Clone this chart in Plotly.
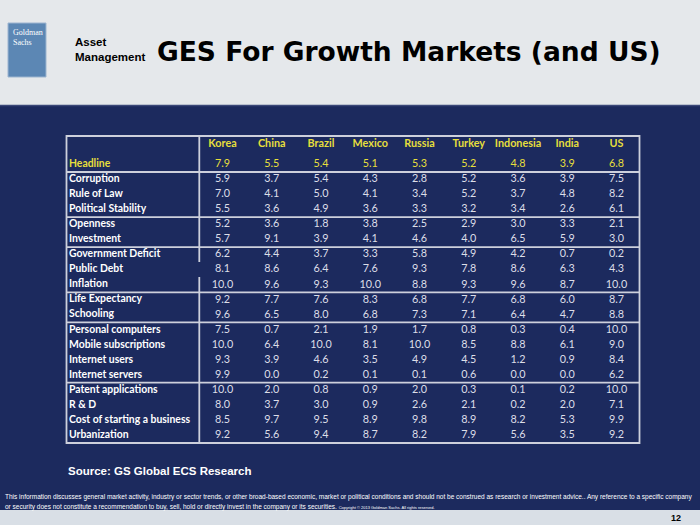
import plotly.graph_objects as go

# ---------------- data ----------------
countries = ["Korea", "China", "Brazil", "Mexico", "Russia", "Turkey", "Indonesia", "India", "US"]
rows = ["Headline", "Corruption", "Rule of Law", "Political Stability", "Openness", "Investment",
        "Government Deficit", "Public Debt", "Inflation", "Life Expectancy", "Schooling",
        "Personal computers", "Mobile subscriptions", "Internet users", "Internet servers",
        "Patent applications", "R & D", "Cost of starting a business", "Urbanization"]
group_sizes = [1, 3, 2, 3, 2, 4, 4]

korea = [7.9, 5.9, 7.0, 5.5, 5.2, 5.7, 6.2, 8.1, 10.0, 9.2, 9.6, 7.5, 10.0, 9.3, 9.9, 10.0, 8.0, 8.5, 9.2]
china = [5.5, 3.7, 4.1, 3.6, 3.6, 9.1, 4.4, 8.6, 9.6, 7.7, 6.5, 0.7, 6.4, 3.9, 0.0, 2.0, 3.7, 9.7, 5.6]
brazil = [5.4, 5.4, 5.0, 4.9, 1.8, 3.9, 3.7, 6.4, 9.3, 7.6, 8.0, 2.1, 10.0, 4.6, 0.2, 0.8, 3.0, 9.5, 9.4]
mexico = [5.1, 4.3, 4.1, 3.6, 3.8, 4.1, 3.3, 7.6, 10.0, 8.3, 6.8, 1.9, 8.1, 3.5, 0.1, 0.9, 0.9, 8.9, 8.7]
russia = [5.3, 2.8, 3.4, 3.3, 2.5, 4.6, 5.8, 9.3, 8.8, 6.8, 7.3, 1.7, 10.0, 4.9, 0.1, 2.0, 2.6, 9.8, 8.2]
turkey = [5.2, 5.2, 5.2, 3.2, 2.9, 4.0, 4.9, 7.8, 9.3, 7.7, 7.1, 0.8, 8.5, 4.5, 0.6, 0.3, 2.1, 8.9, 7.9]
indonesia = [4.8, 3.6, 3.7, 3.4, 3.0, 6.5, 4.2, 8.6, 9.6, 6.8, 6.4, 0.3, 8.8, 1.2, 0.0, 0.1, 0.2, 8.2, 5.6]
india = [3.9, 3.9, 4.8, 2.6, 3.3, 5.9, 0.7, 6.3, 8.7, 6.0, 4.7, 0.4, 6.1, 0.9, 0.0, 0.2, 2.0, 5.3, 3.5]
us = [6.8, 7.5, 8.2, 6.1, 2.1, 3.0, 0.2, 4.3, 10.0, 8.7, 8.8, 10.0, 9.0, 8.4, 6.2, 10.0, 7.1, 9.9, 9.2]

series = [korea, china, brazil, mexico, russia, turkey, indonesia, india, us]

# ---------------- styling / layout ----------------
W, H = 700, 525
NAVY = "#1c2a5e"
YELLOW = "#e6df3c"
BODY = "#dcdee8"
LINE = "#cdd0dc"
FONT = "Lato, 'Open Sans', sans-serif"

# axis mapping: column i centre at 222.5 + 49.25*i px, row r at 164 + 15.06*r px
CX0, CDX = 222.5, 49.25
RY0, RDY = 164.5, 15.04
x_range = [-CX0 / CDX, (W - CX0) / CDX]
y_range = [(H - RY0) / RDY, -RY0 / RDY]

def xv(px):
    return (px - CX0) / CDX

def yv(py):
    return (py - RY0) / RDY

def pxp(px):
    return px / W

def pyp(py):
    return 1 - py / H

fig = go.Figure()

row_idx = list(range(len(rows)))
for i, (c, vals) in enumerate(zip(countries, series)):
    fig.add_trace(go.Scatter(
        x=[i] * len(vals), y=row_idx, mode="text",
        text=[f"{v:.1f}" for v in vals],
        textfont=dict(family=FONT, size=10.8,
                      color=[YELLOW if r == 0 else BODY for r in row_idx]),
        textposition="middle center", hoverinfo="skip", showlegend=False))

# header row (country names)
fig.add_trace(go.Scatter(
    x=list(range(len(countries))), y=[yv(144)] * len(countries), mode="text",
    text=[f"<b>{c}</b>" for c in countries],
    textfont=dict(family=FONT, size=10.8, color=YELLOW),
    hoverinfo="skip", showlegend=False))

# row labels
fig.add_trace(go.Scatter(
    x=[xv(69)] * len(rows), y=row_idx, mode="text",
    text=[f"<b>{r}</b>" for r in rows],
    textposition="middle right",
    textfont=dict(family=FONT, size=10.4,
                  color=[YELLOW if r == 0 else "#ffffff" for r in row_idx]),
    hoverinfo="skip", showlegend=False))

shapes = []
# slide backgrounds
shapes.append(dict(type="rect", xref="paper", yref="paper", x0=0, x1=1, y0=pyp(105), y1=1,
                   fillcolor="#e5e8eb", line=dict(width=0), layer="below"))
shapes.append(dict(type="line", xref="paper", yref="paper", x0=0, x1=1, y0=pyp(105.5), y1=pyp(105.5),
                   line=dict(color="#3b4878", width=1.5)))
shapes.append(dict(type="rect", xref="paper", yref="paper", x0=0, x1=1, y0=0, y1=pyp(510),
                   fillcolor="#d9dfe6", line=dict(width=0), layer="below"))
# logo
shapes.append(dict(type="rect", xref="paper", yref="paper", x0=pxp(8), x1=pxp(46), y0=pyp(77), y1=pyp(23),
                   fillcolor="#5c87b4", line=dict(color="#9db5d0", width=1)))

# table border
tx0, tx1 = xv(66.5), xv(639.5)
ty0, ty1 = yv(136), yv(443)
shapes.append(dict(type="rect", xref="x", yref="y", x0=tx0, x1=tx1, y0=ty0, y1=ty1,
                   line=dict(color=LINE, width=1.8)))
# group separators
acc = 0
for g in group_sizes[:-1]:
    acc += g
    yy = acc - 0.5
    shapes.append(dict(type="line", xref="x", yref="y", x0=tx0, x1=tx1, y0=yy, y1=yy,
                       line=dict(color=LINE, width=1.8)))
# vertical separator after labels (with small gap as in the original)
vx = xv(199.3)
shapes.append(dict(type="line", xref="x", yref="y", x0=vx, x1=vx, y0=ty0, y1=yv(262),
                   line=dict(color=LINE, width=1.8)))
shapes.append(dict(type="line", xref="x", yref="y", x0=vx, x1=vx, y0=yv(277), y1=ty1,
                   line=dict(color=LINE, width=1.8)))

annotations = [
    dict(text="<b>GES For Growth Markets (and US)</b>", x=pxp(155), y=pyp(51), xref="paper", yref="paper",
         xanchor="left", yanchor="middle", showarrow=False,
         font=dict(family="'DejaVu Sans', sans-serif", size=26.5, color="#000000")),
    dict(text="<b>Asset<br>Management</b>", x=pxp(73), y=pyp(49), xref="paper", yref="paper",
         xanchor="left", yanchor="middle", align="left", showarrow=False,
         font=dict(family="'Liberation Sans', sans-serif", size=11.5, color="#000000")),
    dict(text="Goldman<br>Sachs", x=pxp(11), y=pyp(26), xref="paper", yref="paper",
         xanchor="left", yanchor="top", align="left", showarrow=False,
         font=dict(family="'Liberation Serif', serif", size=8, color="#ffffff")),
    dict(text="<b>Source: GS Global ECS Research</b>", x=pxp(66), y=pyp(471), xref="paper", yref="paper",
         xanchor="left", yanchor="middle", showarrow=False,
         font=dict(family="'Liberation Sans', Arial, sans-serif", size=11.5, color="#ffffff")),
    dict(text="This information discusses general market activity, industry or sector trends, or other broad-based economic, market or political conditions and should not be construed as research or investment advice.. Any reference to a specific company",
         x=pxp(3), y=pyp(497), xref="paper", yref="paper", xanchor="left", yanchor="middle", showarrow=False,
         font=dict(family="'Liberation Sans', sans-serif", size=6.5, color="#ffffff")),
    dict(text="or security does not constitute a recommendation to buy, sell, hold or directly invest in the company or its securities. <span style='font-size:4px'>Copyright © 2013 Goldman Sachs. All rights reserved.</span>",
         x=pxp(3), y=pyp(507), xref="paper", yref="paper", xanchor="left", yanchor="middle", showarrow=False,
         font=dict(family="'Liberation Sans', sans-serif", size=6.5, color="#ffffff")),
    dict(text="<b>12</b>", x=pxp(676), y=pyp(518), xref="paper", yref="paper",
         xanchor="center", yanchor="middle", showarrow=False,
         font=dict(family="'Liberation Sans', Arial, sans-serif", size=9, color="#000000")),
]

fig.update_layout(
    width=W, height=H, autosize=False,
    margin=dict(l=0, r=0, t=0, b=0, pad=0),
    paper_bgcolor=NAVY, plot_bgcolor=NAVY,
    xaxis=dict(range=x_range, visible=False, fixedrange=True),
    yaxis=dict(range=y_range, visible=False, fixedrange=True),
    shapes=shapes, annotations=annotations,
    showlegend=False,
)

fig.write_html("out.html", config={"displayModeBar": False, "staticPlot": True},
               post_script="document.body.style.margin='0';document.body.style.overflow='hidden';")
